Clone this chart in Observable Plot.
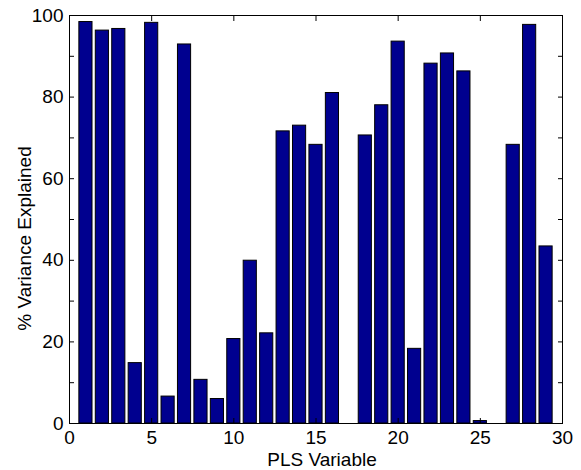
<!DOCTYPE html>
<html><head><meta charset="utf-8">
<script src="https://cdn.jsdelivr.net/npm/d3@7"></script>
<script src="https://cdn.jsdelivr.net/npm/@observablehq/plot@0.6"></script>
<style>body{margin:0;background:#fff}</style>
</head><body><div id="chart"></div>
<script>
const variables = [1,2,3,4,5,6,7,8,9,10,11,12,13,14,15,16,17,18,19,20,21,22,23,24,25,26,27,28,29];
const variance = [98.4,96.3,96.7,14.8,98.2,6.6,92.9,10.7,6.0,20.7,39.9,22.1,71.6,73.0,68.3,81.0,0,70.6,78.0,93.6,18.3,88.2,90.7,86.3,0.6,0,68.3,97.7,43.4];
const xTicks = [0,5,10,15,20,25,30];
const yTicks = [0,10,20,30,40,50,60,70,80,90,100];
const yTickLabels = [0,20,40,60,80,100];
const xLabel = "PLS Variable";
const yLabel = "% Variance Explained";

const data = variables.map((v, i) => ({v, pct: variance[i]}));
const blank = () => "";

const chart = Plot.plot({
  width: 581, height: 470,
  marginLeft: 69, marginRight: 19, marginTop: 15, marginBottom: 47,
  style: {fontFamily: "'Liberation Sans', Arial, sans-serif", fontSize: "19px", background: "#fff", color: "#000", overflow: "visible"},
  x: {domain: [0, 30]},
  y: {domain: [0, 100]},
  marks: [
    Plot.rectY(data, {x1: d => d.v - 0.4, x2: d => d.v + 0.4, y1: 0, y2: "pct", fill: "#00008F", stroke: "#000", strokeWidth: 1}),
    Plot.axisX({ticks: xTicks, anchor: "bottom", tickSize: -5, tickFormat: blank, label: null}),
    Plot.axisX({ticks: xTicks, anchor: "top", tickSize: -5, tickFormat: blank, label: null}),
    Plot.axisY({ticks: yTicks, anchor: "left", tickSize: -5, tickFormat: blank, label: null}),
    Plot.axisY({ticks: yTicks, anchor: "right", tickSize: -5, tickFormat: blank, label: null}),
    Plot.axisX({ticks: xTicks, anchor: "bottom", tickSize: 0, tickPadding: 7, fontSize: 19, tickFormat: d => String(d), label: null}),
    Plot.axisY({ticks: yTickLabels, anchor: "left", tickSize: 0, tickPadding: 6, fontSize: 19, tickFormat: d => String(d), label: null}),
    Plot.frame({stroke: "#000", strokeWidth: 1}),
    Plot.text([xLabel], {text: d => d, frameAnchor: "bottom", textAnchor: "middle", lineAnchor: "middle", dx: 6, dy: 36, fontSize: 19, fill: "#000"}),
    Plot.text([yLabel], {text: d => d, frameAnchor: "left", textAnchor: "middle", lineAnchor: "middle", rotate: -90, dx: -45, dy: 19, fontSize: 19, fill: "#000"})
  ]
});
document.getElementById("chart").appendChild(chart);
</script>
</body></html>
